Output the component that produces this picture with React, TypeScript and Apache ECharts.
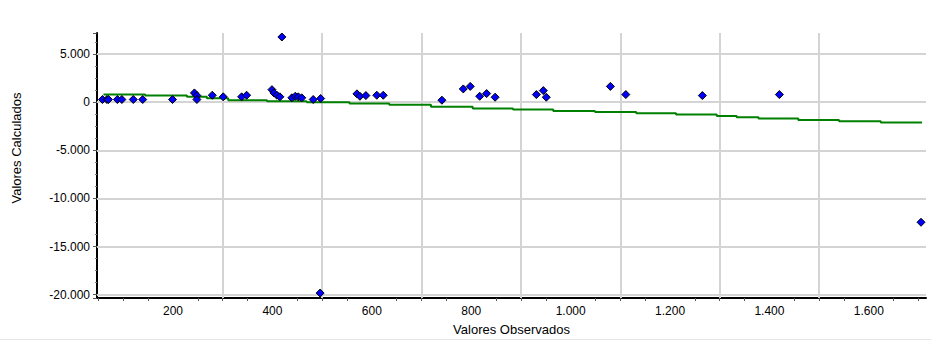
import React, { useEffect, useRef } from "react";
import * as echarts from "echarts";

// Observed (x) vs calculated (y) points
const xObs = [58, 67, 70, 88, 97, 120, 139, 199, 243, 248, 248, 279, 301, 338, 348, 399, 403, 409, 415, 439, 446, 452, 459, 482, 497, 570, 576, 588, 610, 623, 741, 784, 798, 817, 831, 848, 931, 945, 951, 1080, 1111, 1265, 1420, 419, 496, 1705];
const yCalc = [281, 281, 281, 281, 281, 281, 281, 281, 964, 691, 281, 722, 558, 558, 722, 1307, 968, 722, 558, 455, 620, 558, 455, 281, 384, 866, 620, 691, 722, 722, 209, 1379, 1645, 620, 897, 517, 794, 1204, 517, 1645, 794, 691, 794, 6775, -19826, -12470];

// Green step line
const stepX = [60, 144, 228, 268, 311, 389, 469, 555, 635, 719, 803, 884, 965, 1049, 1132, 1212, 1294, 1334, 1378, 1458, 1540, 1624, 1707];
const stepY = [794, 691, 558, 414, 209, 107, 4, -129, -263, -468, -642, -745, -919, -1022, -1155, -1289, -1432, -1570, -1699, -1842, -1976, -2109, -2109];

// Grid lines
const gridX = [300, 500, 700, 900, 1100, 1300, 1500];
const gridY = [5000, 0, -5000, -10000, -15000, -20000];

const X_MIN = 47;
const X_MAX = 1715;
const Y_MIN = -20340;
const Y_MAX = 7190;

const fmt = (v: number) => {
  const s = Math.round(Math.abs(v)).toString().replace(/\B(?=(\d{3})+(?!\d))/g, ".");
  return (v < 0 ? "-" : "") + s;
};

const FONT = "'Liberation Sans', Arial, sans-serif";

export default function App() {
  const ref = useRef<HTMLDivElement>(null);
  useEffect(() => {
    if (!ref.current) return;
    const chart = echarts.init(ref.current, undefined, { renderer: "svg" });
    const gridColor = "#d4d4d4";
    chart.setOption({
      animation: false,
      backgroundColor: "#ffffff",
      textStyle: { fontFamily: FONT },
      grid: { left: 97, right: 5, top: 33, bottom: 40, containLabel: false },
      xAxis: {
        type: "value",
        min: X_MIN,
        max: X_MAX,
        splitNumber: 8,
        name: "Valores Observados",
        nameLocation: "middle",
        nameGap: 25,
        nameTextStyle: { fontFamily: FONT, fontSize: 13, color: "#000" },
        axisLine: { show: true, onZero: false, lineStyle: { color: "#000", width: 2 } },
        axisTick: { show: false },
        minorTick: { show: true, splitNumber: 4, length: 3, lineStyle: { color: "#555" } },
        axisLabel: {
          margin: 7,
          fontFamily: FONT,
          fontSize: 12,
          color: "#000",
          showMinLabel: false,
          showMaxLabel: false,
          formatter: fmt,
        },
        splitLine: { show: false },
      },
      yAxis: {
        type: "value",
        min: Y_MIN,
        max: Y_MAX,
        axisLine: { show: true, onZero: false, lineStyle: { color: "#000", width: 2 } },
        axisTick: { show: true, length: 4, lineStyle: { color: "#555" } },
        minorTick: { show: true, splitNumber: 4, length: 2, lineStyle: { color: "#777" } },
        axisLabel: {
          margin: 7,
          fontFamily: FONT,
          fontSize: 12,
          color: "#000",
          showMinLabel: false,
          showMaxLabel: false,
          formatter: fmt,
        },
        splitLine: { show: false },
      },
      graphic: [
        {
          type: "text",
          x: 16,
          y: 148,
          rotation: Math.PI / 2,
          style: {
            text: "Valores Calculados",
            font: `13px ${FONT}`,
            fill: "#000",
            align: "center",
            verticalAlign: "middle",
          },
        },
        {
          type: "line",
          shape: { x1: 0, y1: 339.5, x2: 931, y2: 339.5 },
          style: { stroke: "#e6e6e6", lineWidth: 1 },
        },
      ],
      series: [
        {
          type: "line",
          z: 10,
          step: "end",
          showSymbol: false,
          symbol: "none",
          data: stepX.map((x, i) => [x, stepY[i]]),
          lineStyle: { color: "#008000", width: 2 },
          silent: true,
          markLine: {
            silent: true,
            z: 1,
            symbol: "none",
            label: { show: false },
            lineStyle: { color: gridColor, width: 2, type: "solid" },
            emphasis: { disabled: true },
            data: [
              ...gridX.map((x) => ({ xAxis: x })),
              ...gridY.map((y) => ({ yAxis: y })),
            ],
          },
        },
        {
          type: "scatter",
          z: 11,
          symbol: "diamond",
          symbolSize: 8,
          data: xObs.map((x, i) => [x, yCalc[i]]),
          itemStyle: { color: "#0000ff", borderColor: "#000", borderWidth: 1, opacity: 1 },
        },
      ],
    });
    return () => chart.dispose();
  }, []);
  return (
    <div
      ref={ref}
      style={{ position: "fixed", left: 0, top: 0, width: 931, height: 341, background: "#fff" }}
    />
  );
}
